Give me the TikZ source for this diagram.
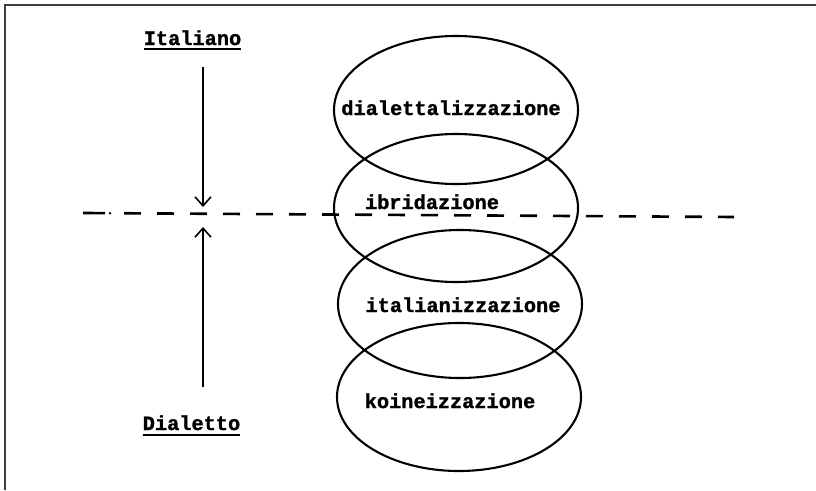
\documentclass[tikz,border=0pt]{standalone}
\usepackage{fontspec}
\newfontfamily\tyb[FakeBold=1.3]{Liberation Mono}
\usetikzlibrary{shapes.geometric,arrows.meta}
\begin{document}
\begin{tikzpicture}[x=1pt,y=-1pt,
  lbl/.style={font=\tyb\bfseries\fontsize{20.3}{22}\selectfont, inner sep=0pt, anchor=base},
  oval/.style={draw, ellipse, line width=2.1pt, inner sep=0pt, minimum width=244pt, minimum height=148pt},
  arr/.style={line width=1.6pt, -{Straight Barb[length=9pt,width=16pt,line width=1.6pt]}},
  uline/.style={line width=2.6pt},
  dsh/.style={line width=2.6pt}]
\useasboundingbox (0,0) rectangle (816,490);
\fill[white] (0,0) rectangle (816,490);
% frame
\draw[line width=1.6pt, black!75] (5,490) -- (5,5) -- (816,5);
% ellipses
\node[oval] (e1) at (456,110) {};
\node[oval] (e2) at (456,208) {};
\node[oval] (e3) at (460,304) {};
\node[oval] (e4) at (459,397) {};
% texts
\node[lbl] (t1) at (451,115) {dialettalizzazione};
\node[lbl] (t2) at (432,209) {ibridazione};
\node[lbl] (t3) at (463,312) {italianizzazione};
\node[lbl] (t4) at (450,408) {koineizzazione};
% poles
\node[lbl] (it) at (192.5,45) {Italiano};
\node[lbl] (di) at (191.5,430) {Dialetto};
\draw[uline] ([yshift=-4pt]it.base west) -- ([yshift=-4pt]it.base east);
\draw[uline] ([yshift=-5pt]di.base west) -- ([yshift=-5pt]di.base east);
% arrows
\coordinate (a1s) at (203,67);
\coordinate (a1e) at (203,207);
\coordinate (a2s) at (203,387);
\coordinate (a2e) at (203,227);
\draw[arr] (a1s) -- (a1e);
\draw[arr] (a2s) -- (a2e);
% dash-dotted line
\coordinate (d0) at (83,213);
\coordinate (d1) at (105,213.1);
\coordinate (dd) at (110,213.2);
\coordinate (dl) at (124,213.25);
\coordinate (dr) at (734,217);
\draw[dsh] (d0) -- (d1);
\fill (dd) circle (1.4pt);
\draw[dsh, dash pattern=on 17pt off 16pt] (dl) -- (dr);
\end{tikzpicture}
\end{document}
